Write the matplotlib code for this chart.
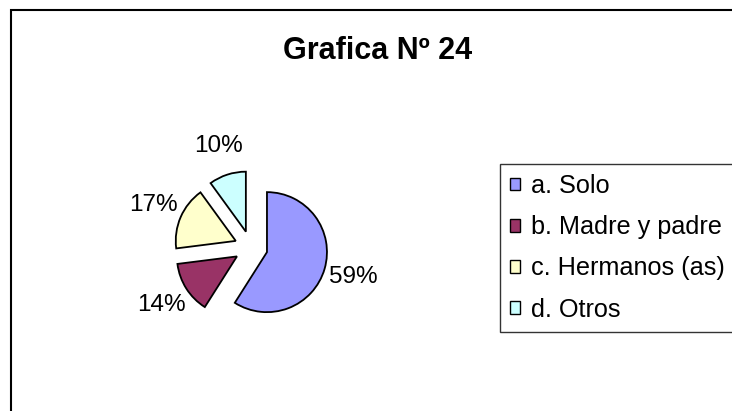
import matplotlib
matplotlib.use("Agg")
import matplotlib.pyplot as plt
from matplotlib.patches import Rectangle, Patch

categories = ["a. Solo", "b. Madre y padre", "c. Hermanos (as)", "d. Otros"]
values = [59, 14, 17, 10]
colors = ["#9999FF", "#993366", "#FFFFCC", "#CCFFFF"]
title = "Grafica Nº 24"

plt.rcParams['font.family'] = ['Liberation Sans', 'DejaVu Sans']

W, H = 732, 411
fig = plt.figure(figsize=(W / 100, H / 100), dpi=100)
fig.patch.set_facecolor("white")

# outer chart border
fig.patches.append(Rectangle((10.5 / W, -0.1), 1.2, 1.1 - 10.5 / H,
                             transform=fig.transFigure, fill=False,
                             edgecolor="black", linewidth=1.5))

cx, cy, r = 251, 247.5, 60
ax = fig.add_axes([(cx - 2 * r) / W, (H - cy - 2 * r) / H, 4 * r / W, 4 * r / H])
wedges, texts, autotexts = ax.pie(
    values, colors=colors, startangle=90, counterclock=False,
    explode=[0.277] * 4, autopct='%1.0f%%', pctdistance=1.5,
    wedgeprops=dict(edgecolor="black", linewidth=1.3),
    textprops=dict(fontsize=17.5, color="black"))
ax.set_xlim(-2, 2)
ax.set_ylim(-2, 2)
ax.set_aspect("equal")
ax.axis("off")

fig.text(378 / W, 1 - 51 / H, title, ha="center", va="center",
         fontsize=22, fontweight="bold")

handles = [Patch(facecolor=c, edgecolor="black", linewidth=1) for c in colors]
leg = fig.legend(handles, categories, loc="upper left",
                 bbox_to_anchor=(500 / W, 1 - 164 / H),
                 fontsize=18.2, frameon=True, fancybox=False, shadow=False,
                 borderpad=0.4, labelspacing=0.68, handlelength=0.4,
                 handleheight=0.4, handletextpad=0.42, borderaxespad=0)
leg.get_frame().set_edgecolor("black")
leg.get_frame().set_linewidth(1.0)

fig.savefig("out.png", dpi=100)
